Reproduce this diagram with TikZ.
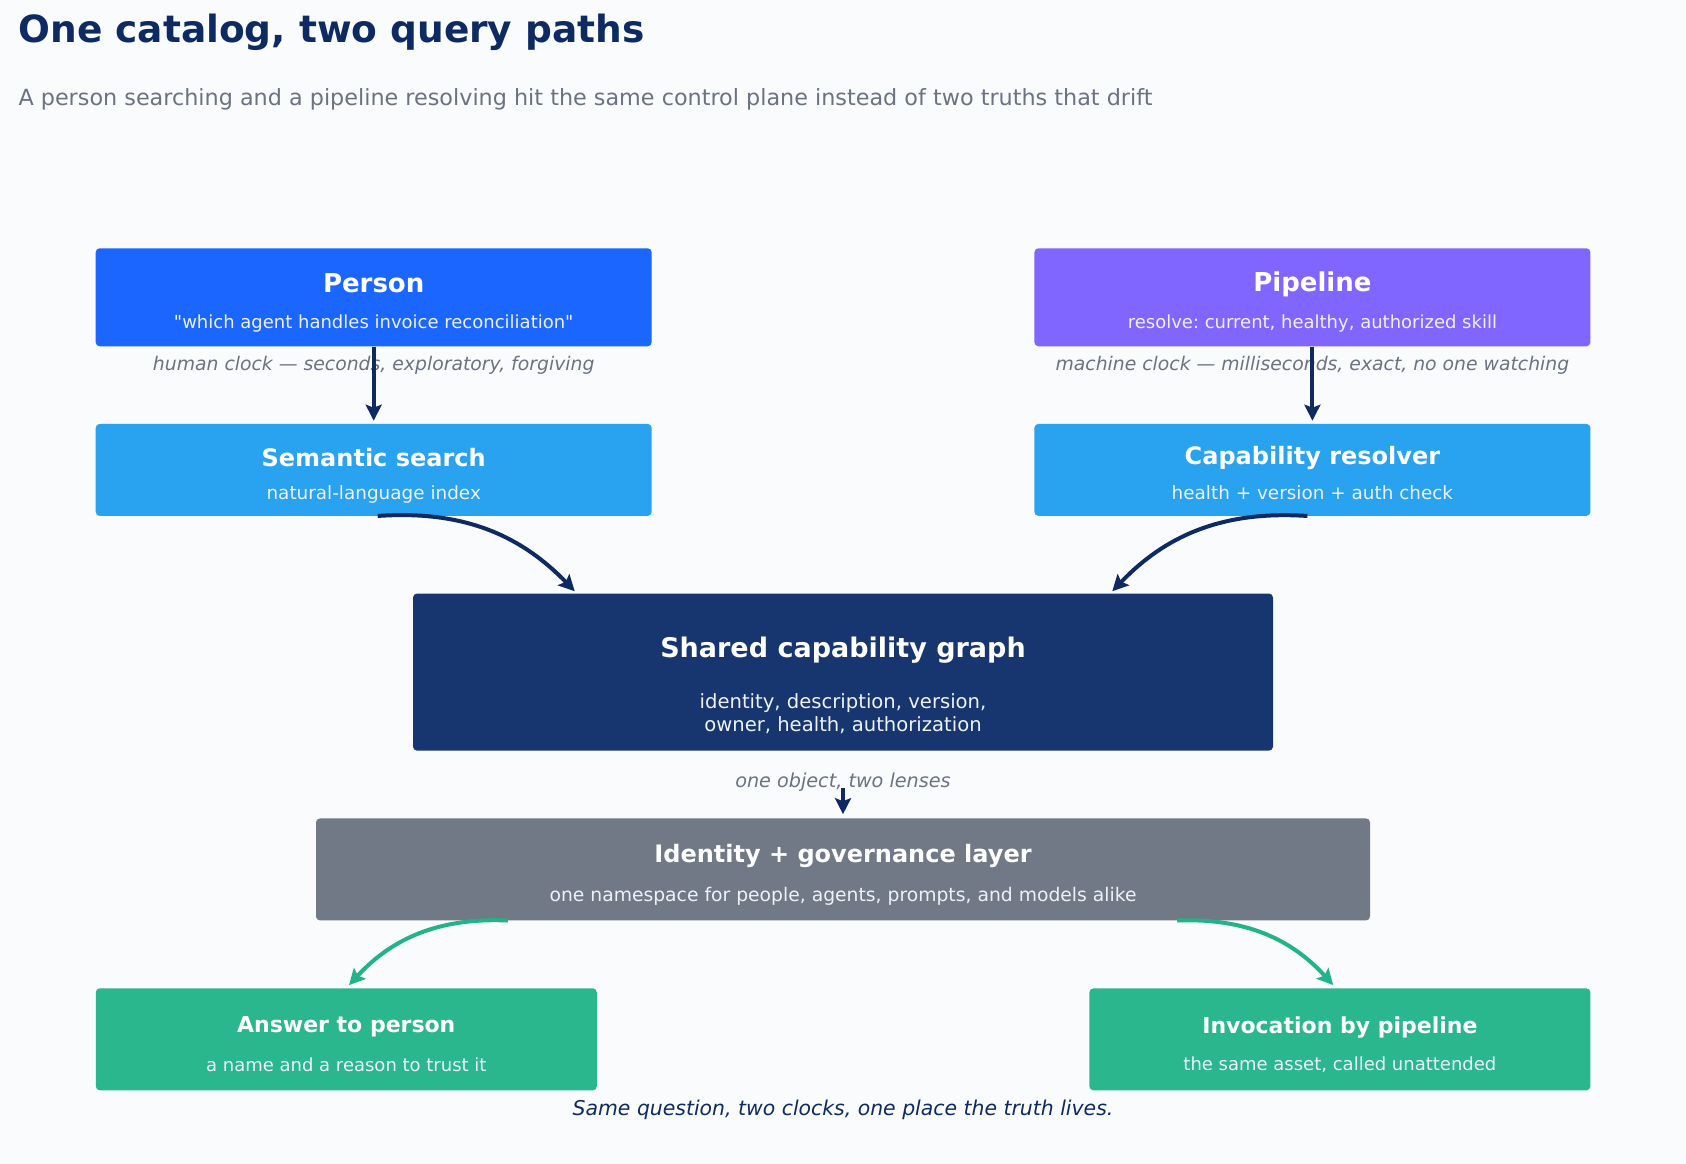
\documentclass[tikz,border=0pt]{standalone}
\usepackage{fontspec}
\setmainfont{DejaVu Sans}[Ligatures=TeXOff]
\usetikzlibrary{arrows.meta,calc}
\definecolor{bg}{HTML}{FAFBFD}
\definecolor{ink}{HTML}{0E2A62}
\definecolor{muted}{HTML}{6B7280}
\definecolor{human}{HTML}{1A66FF}
\definecolor{machine}{HTML}{8165FF}
\definecolor{lookup}{HTML}{29A2F0}
\definecolor{graphnavy}{HTML}{17356E}
\definecolor{govgray}{HTML}{717886}
\definecolor{answer}{HTML}{2AB78E}
\definecolor{flow}{HTML}{22B38A}
\definecolor{soft}{HTML}{EEF2F8}
\frenchspacing

\begin{document}
\begin{tikzpicture}[x=1pt, y=-1pt, >={Stealth[length=16pt,width=16pt,inset=3pt]},
  box/.style={rectangle, rounded corners=4pt, inner sep=0pt},
  head/.style={text=white, font=\bfseries\fontsize{24}{28}\selectfont},
  sub/.style={text=soft, font=\fontsize{18}{22}\selectfont, align=center},
  note/.style={text=muted, font=\itshape\fontsize{18.8}{22}\selectfont},
  link/.style={->, line width=4pt, draw=ink},
  glink/.style={->, line width=4pt, draw=flow}]

  \fill[bg] (0,0) rectangle (1686,1164);
  \useasboundingbox (0,0) rectangle (1686,1164);

  \node[anchor=base west, text=ink, font=\bfseries\fontsize{37.5}{44}\selectfont] (title) at (15,43) {One catalog, two query paths};
  \node[anchor=base west, text=muted, font=\fontsize{22.3}{26}\selectfont] (subtitle) at (15,105)
    {A person searching and a pipeline resolving hit the same control plane instead of two truths that drift};

  % two callers
  \node[box, fill=human, minimum width=556pt, minimum height=98pt] (person) at (373.7,297.3) {};
  \node[head, font=\bfseries\fontsize{26}{30}\selectfont] (personT) at ([yshift=14pt]person.center) {Person};
  \node[sub] (personS) at ([yshift=-26pt]person.center) {"which agent handles invoice reconciliation"};

  \node[box, fill=machine, minimum width=556pt, minimum height=98pt] (pipeline) at (1312.4,297.3) {};
  \node[head, font=\bfseries\fontsize{26}{30}\selectfont] (pipelineT) at ([yshift=13pt]pipeline.center) {Pipeline};
  \node[sub] (pipelineS) at ([yshift=-26pt]pipeline.center) {resolve: current, healthy, authorized skill};

  \node[note] (humanclock) at (373.7,365.5) {human clock — seconds, exploratory, forgiving};
  \node[note] (machineclock) at (1312.4,365.5) {machine clock — milliseconds, exact, no one watching};

  % lookup layer
  \node[box, fill=lookup, minimum width=556pt, minimum height=92pt] (semantic) at (373.7,469.9) {};
  \node[head] (semanticT) at ([yshift=12pt]semantic.center) {Semantic search};
  \node[sub, font=\fontsize{18.4}{22}\selectfont] (semanticS) at ([yshift=-25pt]semantic.center) {natural-language index};

  \node[box, fill=lookup, minimum width=556pt, minimum height=92pt] (resolver) at (1312.4,469.9) {};
  \node[head] (resolverT) at ([yshift=12pt]resolver.center) {Capability resolver};
  \node[sub, font=\fontsize{18.4}{22}\selectfont] (resolverS) at ([yshift=-23pt]resolver.center) {health + version + auth check};

  % shared graph
  \node[box, fill=graphnavy, minimum width=860pt, minimum height=157pt] (graph) at (843,672.1) {};
  \node[head, font=\bfseries\fontsize{27}{32}\selectfont] (graphT) at ([yshift=22pt]graph.center) {Shared capability graph};
  \node[sub, font=\fontsize{19.6}{23}\selectfont] (graphS) at ([yshift=-41.3pt]graph.center)
    {identity, description, version,\\owner, health, authorization};

  \node[note, font=\itshape\fontsize{19.2}{22}\selectfont] (lenses) at (843,781.8) {one object, two lenses};

  \node[box, fill=govgray, minimum width=1054pt, minimum height=102pt] (gov) at (843,869.4) {};
  \node[head] (govT) at ([yshift=13.2pt]gov.center) {Identity + governance layer};
  \node[sub, font=\fontsize{18.75}{22}\selectfont] (govS) at ([yshift=-27.4pt]gov.center) {one namespace for people, agents, prompts, and models alike};

  % outcomes
  \node[box, fill=answer, minimum width=501pt, minimum height=102pt] (reply) at (346.3,1039.3) {};
  \node[head, font=\bfseries\fontsize{22}{26}\selectfont] (replyT) at ([yshift=12.1pt]reply.center) {Answer to person};
  \node[sub] (replyS) at ([yshift=-25.2pt]reply.center) {a name and a reason to trust it};

  \node[box, fill=answer, minimum width=501pt, minimum height=102pt] (invoke) at (1339.9,1039.3) {};
  \node[head, font=\bfseries\fontsize{22}{26}\selectfont] (invokeT) at ([yshift=12.1pt]invoke.center) {Invocation by pipeline};
  \node[sub] (invokeS) at ([yshift=-25.2pt]invoke.center) {the same asset, called unattended};

  \node[text=ink, font=\itshape\fontsize{20.4}{24}\selectfont] (footer) at (843,1109.8)
    {Same question, two clocks, one place the truth lives.};

  % connectors
  \draw[link, shorten >=3pt] (person.south) -- (semantic.north);
  \draw[link, shorten >=3pt] (pipeline.south) -- (resolver.north);
  \draw[link, shorten <=2pt, shorten >=3pt] ([xshift=2pt]semantic.south) to[bend left=25] ([xshift=164pt]graph.north west);
  \draw[link, shorten <=2pt, shorten >=3pt] ([xshift=-3pt]resolver.south) to[bend right=25] ([xshift=-163pt]graph.north east);
  \draw[link, shorten >=4pt] ([yshift=-37pt]graph.south) -- (gov.north);
  \draw[glink, shorten <=2pt, shorten >=4pt] ([xshift=194pt]gov.south west) to[bend right=25] (reply.north);
  \draw[glink, shorten <=2pt, shorten >=4pt] ([xshift=-195pt]gov.south east) to[bend left=25] ([xshift=-4pt]invoke.north);
\end{tikzpicture}
\end{document}
